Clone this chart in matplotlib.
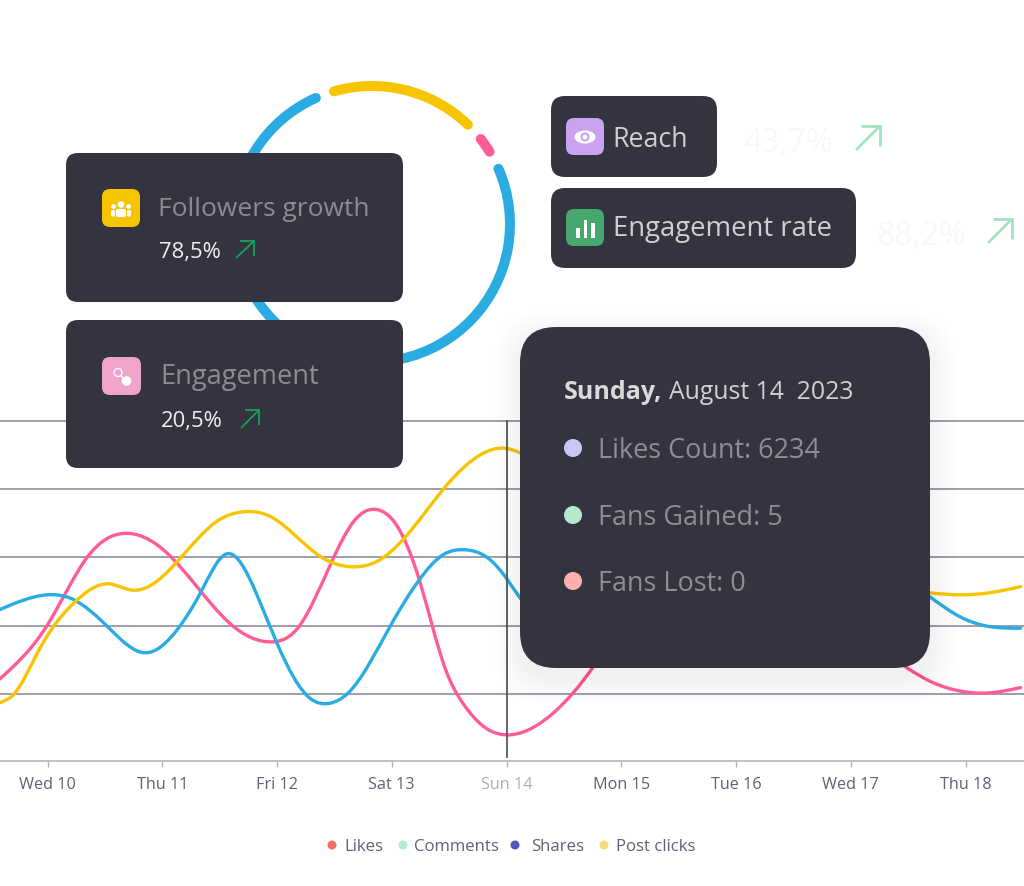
import matplotlib
matplotlib.use("Agg")
import matplotlib.pyplot as plt
import numpy as np
from matplotlib.path import Path
from matplotlib.patches import PathPatch, FancyBboxPatch, Arc, Circle, Ellipse, Rectangle

plt.rcParams['font.family'] = ['Open Sans', 'DejaVu Sans']

# ---- data -------------------------------------------------------------
tick_days = [0, 1, 2, 3, 4, 5, 6, 7, 8]
tick_labels = ["Wed 10", "Thu 11", "Fri 12", "Sat 13", "Sun 14", "Mon 15", "Tue 16", "Wed 17", "Thu 18"]

pink_x = [-0.42, 0.00, 0.35, 0.66, 1.03, 1.59, 1.96, 2.18, 2.47, 2.68, 2.87, 3.03, 3.24, 3.47, 3.62, 3.80, 4.05,
          4.41, 4.75, 5.25, 6.10, 6.90, 7.49, 7.72, 7.95, 8.19, 8.48]
pink_y = [1.21, 2.01, 3.01, 3.35, 3.08, 2.03, 1.76, 1.96, 2.91, 3.55, 3.70, 3.50, 2.67, 1.35, 0.86, 0.52, 0.40,
          0.72, 1.38, 2.60, 2.80, 2.10, 1.38, 1.16, 1.04, 1.01, 1.09]

blue_x = [-0.42, 0.00, 0.20, 0.55, 0.85, 1.14, 1.34, 1.56, 1.82, 2.00, 2.29, 2.46, 2.62, 3.00, 3.24, 3.45,
          3.64, 3.83, 4.00, 4.12, 5.00, 6.00, 7.00, 7.69, 7.95, 8.19, 8.48]
blue_y = [2.23, 2.45, 2.40, 1.94, 1.60, 1.96, 2.50, 3.05, 2.47, 1.74, 0.93, 0.86, 1.01, 2.03, 2.67, 3.04,
          3.11, 3.00, 2.69, 2.40, 2.00, 2.90, 3.10, 2.42, 2.13, 1.99, 1.96]

yellow_x = [-0.42, -0.30, -0.09, 0.05, 0.23, 0.54, 0.73, 0.88, 1.17, 1.47, 1.73, 1.94, 2.38, 2.66, 2.86, 3.12,
            3.47, 3.77, 3.98, 4.12, 5.00, 6.00, 7.00, 7.69, 7.95, 8.21, 8.48]
yellow_y = [0.87, 0.98, 1.59, 1.98, 2.33, 2.61, 2.52, 2.57, 3.01, 3.52, 3.67, 3.60, 3.01, 2.86, 2.93, 3.30,
            4.04, 4.50, 4.60, 4.53, 3.50, 3.00, 2.70, 2.48, 2.45, 2.48, 2.57]

donut_degrees = [62.0, 8.4, 271.6]
donut_colors = ["#f6c500", "#ff5c96", "#2aace2"]

BLUE, PINK, YELLOW = "#2aace2", "#ff5c96", "#f6c500"
DARK = "#33343f"
INK = "#5e6178"

# ---- figure ------------------------------------------------------------
W, H = 1024, 886
fig = plt.figure(figsize=(W / 100, H / 100), dpi=100, facecolor="white")

def to_fig_y(py):
    return 1 - py / H

ax_top, ax_bot = 400.0, 760.5
ax = fig.add_axes([0, to_fig_y(ax_bot), 1, (ax_bot - ax_top) / H], zorder=1)
ax.set_xlim(-47.5 / 114.75, (1024 - 47.5) / 114.75)
ax.set_ylim((761.9 - ax_bot) / 68.2, (761.9 - ax_top) / 68.2)
ax.patch.set_alpha(0)
for s in ["top", "left", "right"]:
    ax.spines[s].set_visible(False)
ax.spines["bottom"].set_color("#aeb0bc")
ax.spines["bottom"].set_linewidth(1.1)
ax.set_yticks([1, 2, 3, 4, 5])
ax.tick_params(axis="y", length=0, labelleft=False)
ax.set_xticks(tick_days)
ax.set_xticklabels(tick_labels, fontsize=11.7, color=INK)
ax.tick_params(axis="x", length=4, width=1, color="#aeb0bc", pad=8)
ax.get_xticklabels()[4].set_color("#adaeb6")
ax.grid(axis="y", color="#82848f", lw=1.1, zorder=0)


def smooth_path(x, y):
    """Natural cubic spline through the read values, as Bezier segments."""
    x, y = np.asarray(x), np.asarray(y)
    n = len(x)
    h = np.diff(x)
    d = np.diff(y) / h
    A = np.zeros((n, n))
    b = np.zeros(n)
    A[0, 0] = 2; A[0, 1] = 1; b[0] = 3 * d[0]
    A[-1, -1] = 2; A[-1, -2] = 1; b[-1] = 3 * d[-1]
    for i in range(1, n - 1):
        A[i, i - 1] = h[i]
        A[i, i] = 2 * (h[i - 1] + h[i])
        A[i, i + 1] = h[i - 1]
        b[i] = 3 * (h[i] * d[i - 1] + h[i - 1] * d[i])
    m = np.linalg.solve(A, b)
    verts = [(x[0], y[0])]
    codes = [Path.MOVETO]
    for i in range(n - 1):
        verts += [(x[i] + h[i] / 3, y[i] + m[i] * h[i] / 3),
                  (x[i + 1] - h[i] / 3, y[i + 1] - m[i + 1] * h[i] / 3),
                  (x[i + 1], y[i + 1])]
        codes += [Path.CURVE4] * 3
    return Path(verts, codes)


for xs, ys, col, name in [(pink_x, pink_y, PINK, "pink"), (blue_x, blue_y, BLUE, "blue"),
                          (yellow_x, yellow_y, YELLOW, "yellow")]:
    ax.add_patch(PathPatch(smooth_path(xs, ys), fill=False, edgecolor=col, lw=2.4,
                           capstyle="round", zorder=3, label=name))

ax.plot([4, 4], [(761.9 - 757) / 68.2, 5], color="#565866", lw=1.3, zorder=4)

# ---- overlay, in image pixel units --------------------------------------
ov = fig.add_axes([0, 0, 1, 1], zorder=5)
ov.set_xlim(0, W)
ov.set_ylim(0, H)
ov.axis("off")
ov.patch.set_alpha(0)

def Y(py):
    return H - py

def box(x0, y0, x1, y1, r, color, z=3, alpha=1.0):
    ov.add_patch(FancyBboxPatch((x0 + r, Y(y1) + r), x1 - x0 - 2 * r, y1 - y0 - 2 * r,
                                boxstyle=f"round,pad={r},rounding_size={r}",
                                fc=color, ec="none", zorder=z, alpha=alpha))

def label(x, y, s, size_px, color, weight="normal", ha="left"):
    return ov.text(x, Y(y + size_px * 0.125), s, fontsize=size_px * 0.72, color=color, va="center", ha=ha,
                   fontweight=weight, zorder=6)

def arrow(x0, y0, x1, y1, color, lw):
    L = x1 - x0
    ov.plot([x0, x1], [Y(y0), Y(y1)], color=color, lw=lw, zorder=6, solid_capstyle="butt")
    ov.plot([x0 + L * 0.2, x1, x1], [Y(y1), Y(y1), Y(y1 + L * 0.82)], color=color, lw=lw, zorder=6,
            solid_joinstyle="miter", solid_capstyle="butt")

# donut ring
cx, cy, rad = 372, 224, 138
cap = 1.0
angle = 107.0
for deg, col in zip(donut_degrees, donut_colors):
    ov.add_patch(Arc((cx, Y(cy)), 2 * rad, 2 * rad, theta1=angle - deg + cap, theta2=angle - cap,
                     edgecolor=col, lw=7.2, capstyle="round", zorder=2))
    angle -= deg + (360 - sum(donut_degrees)) / 3

# cards
box(66, 153, 403, 302, 12, DARK)
box(66, 320, 403, 468, 12, DARK)
box(551, 96, 717, 177, 14, DARK)
box(551, 188, 856, 268, 14, DARK)

# tooltip with soft shadow
for i in range(14):
    box(520 - i * 2, 337 - i * 2, 930 + i * 2, 678 + i * 2, 36 + i, "#30313c", z=3.1, alpha=0.004)
box(520, 327, 930, 668, 36, DARK, z=3.2)

# card icons
box(102, 189, 140, 227, 8, "#f6c500", z=4)
box(102, 357, 141, 395, 8, "#f0a3cb", z=4)
box(566, 118, 604, 155, 8, "#c9a2f0", z=4)
box(566, 209, 604, 246, 8, "#45a96f", z=4)

# people glyph
for px_, py_, r_ in [(121, 204.5, 3.3), (113.5, 206.5, 2.4), (128.5, 206.5, 2.4)]:
    ov.add_patch(Circle((px_, Y(py_)), r_, fc="white", ec="none", zorder=5))
box(116, 209, 126, 217, 2, "white", z=5)
box(111, 210, 115, 216.5, 1.4, "white", z=5)
box(127, 210, 131, 216.5, 1.4, "white", z=5)

# engagement glyph
ov.plot([118, 126], [Y(372.5), Y(381)], color="white", lw=1, zorder=5)
ov.add_patch(Circle((118, Y(372.5)), 4, fc="#f0a3cb", ec="white", lw=0.9, zorder=5.1))
ov.add_patch(Circle((126.5, Y(381)), 4.8, fc="white", ec="none", zorder=5.1))

# eye glyph
ov.add_patch(Ellipse((585, Y(137)), 21, 13, fc="white", ec="none", zorder=5))
ov.add_patch(Circle((585, Y(137)), 4.6, fc="#c9a2f0", ec="none", zorder=5.1))
ov.add_patch(Circle((585, Y(137)), 2.4, fc="white", ec="none", zorder=5.2))

# bars glyph
for bx, top in [(576, 228), (583.5, 220), (591, 223)]:
    ov.add_patch(Rectangle((bx, Y(238)), 3.6, 238 - top, fc="white", ec="none", zorder=5))

# card text
label(158.5, 206, "Followers growth", 26.4, "#8c8c8f")
label(159, 250, "78,5%", 22, "#efefef")
arrow(236, 258, 254, 241, "#12a35c", 1.3)
label(160.5, 374, "Engagement", 27.3, "#8c8c8f")
label(161, 419, "20,5%", 22, "#efefef")
arrow(241, 428, 259, 410, "#12a35c", 1.3)
label(612.5, 137, "Reach", 26.7, "#cfcfcf")
label(613, 226, "Engagement rate", 27.5, "#cfcfcf")
label(743, 139, "43,7%", 32, "#f8f8f8")
arrow(856, 150, 880, 126, "#a3e2c2", 2)
label(876, 232, "88,2%", 32, "#f8f8f8")
arrow(988, 243, 1012, 219, "#a3e2c2", 2)

# tooltip text
label(564, 389, "Sunday,", 25, "#d9d9d9", weight="bold")
label(669, 389, "August 14  2023", 24.7, "#d0d0d0")
tip_rows = ["Likes Count: 6234", "Fans Gained: 5", "Fans Lost: 0"]
tip_colors = ["#c9c6f5", "#b5e8cc", "#ffb0ae"]
for row, col, py in zip(tip_rows, tip_colors, [448, 515, 581]):
    ov.add_patch(Circle((573, Y(py)), 9, fc=col, ec="none", zorder=5))
    label(598, py, row, 27, "#8e8e90")

# legend
legend_names = ["Likes", "Comments", "Shares", "Post clicks"]
legend_colors = ["#f56c6c", "#b5e8cc", "#5258bb", "#f5d97a"]
for name, col, dx, tx in zip(legend_names, legend_colors, [332, 403, 515, 604], [344, 414, 531, 616]):
    ov.add_patch(Circle((dx, Y(845)), 4.5, fc=col, ec="none", zorder=5))
    label(tx, 845, name, 16.8, INK)

fig.savefig("out.png", dpi=100, facecolor="white")
